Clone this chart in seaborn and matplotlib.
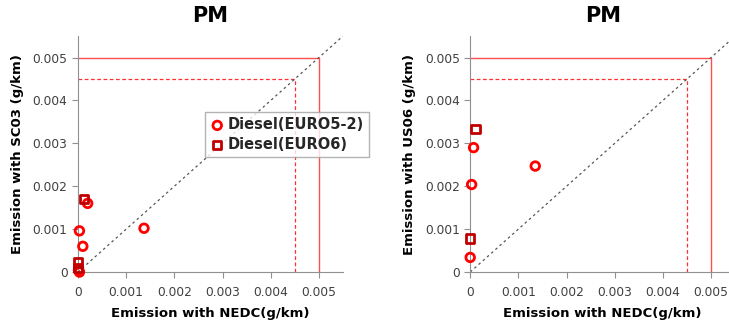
import numpy as np
import matplotlib
matplotlib.use('Agg')
import matplotlib.pyplot as plt
import seaborn as sns

sns.set_style('white')
plt.rcParams['font.family'] = ['DejaVu Sans']

# SC03 vs NEDC
sc03_euro5_nedc = [0.00003, 0.0001, 0.0002, 0.00137, 0.00003, 0.00001]
sc03_euro5_val = [0.00096, 0.0006, 0.0016, 0.00102, 0.00000, 0.00005]
sc03_euro6_nedc = [0.00012, 0.0, 0.0]
sc03_euro6_val = [0.0017, 0.00022, 0.0001]

# US06 vs NEDC
us06_euro5_nedc = [0.0, 0.00003, 0.00007, 0.00135]
us06_euro5_val = [0.00034, 0.00204, 0.0029, 0.00247]
us06_euro6_nedc = [0.0, 0.00011]
us06_euro6_val = [0.00078, 0.00334]

ticks = [0, 0.001, 0.002, 0.003, 0.004, 0.005]
tick_labels = ['0', '0.001', '0.002', '0.003', '0.004', '0.005']
limit = 0.005
limit_90 = 0.0045

fig = plt.figure(figsize=(7.29, 3.25), dpi=100)
ax1 = fig.add_axes([0.107, 0.163, 0.3635, 0.726])
ax2 = fig.add_axes([0.645, 0.163, 0.3635, 0.726])

panels = [
    (ax1, sc03_euro5_nedc, sc03_euro5_val, sc03_euro6_nedc, sc03_euro6_val, 'Emission with SC03 (g/km)'),
    (ax2, us06_euro5_nedc, us06_euro5_val, us06_euro6_nedc, us06_euro6_val, 'Emission with US06 (g/km)'),
]

for ax, x5, y5, x6, y6, ylab in panels:
    ax.set_xlim(0, 0.0055)
    ax.set_ylim(0, 0.0055)
    # limit lines
    ax.plot([0, limit], [limit, limit], color='#FF5050', lw=1)
    ax.plot([limit, limit], [0, limit], color='#FF5050', lw=1)
    ax.plot([0, limit_90], [limit_90, limit_90], color='#FF3030', lw=0.9, ls=(0, (3, 2)))
    ax.plot([limit_90, limit_90], [0, limit_90], color='#FF3030', lw=0.9, ls=(0, (3, 2)))
    ax.plot([0, 0.0062], [0, 0.0062], color='#555555', lw=0.9, ls=(0, (2, 2.5)))
    sns.scatterplot(x=x5, y=y5, ax=ax, marker='o', s=38, facecolor='none',
                    edgecolor='#FF0000', linewidth=2, clip_on=False, zorder=5,
                    label='Diesel(EURO5-2)')
    sns.scatterplot(x=x6, y=y6, ax=ax, marker='s', s=36, facecolor='none',
                    edgecolor='#C00000', linewidth=2, clip_on=False, zorder=5,
                    label='Diesel(EURO6)')
    ax.set_xticks(ticks)
    ax.set_xticklabels(tick_labels)
    ax.set_yticks(ticks)
    ax.set_yticklabels(tick_labels)
    ax.tick_params(axis='both', labelsize=8.8, labelcolor='#404040', length=4,
                   color='#909090', direction='out', bottom=True, left=True)
    ax.tick_params(axis='x', pad=6)
    for side in ['top', 'right']:
        ax.spines[side].set_visible(False)
    for side in ['left', 'bottom']:
        ax.spines[side].set_color('#909090')
    ax.set_xlabel('Emission with NEDC(g/km)', fontsize=9.5, fontweight='bold',
                  color='black', labelpad=6)
    ax.set_ylabel(ylab, fontsize=9.5, fontweight='bold', color='black', labelpad=6)
    ax.set_title('PM', fontsize=15, fontweight='bold', color='black', pad=10)
    ax.get_legend().remove()

handles, labels = ax1.get_legend_handles_labels()
leg = fig.legend(handles, labels, loc='upper left', bbox_to_anchor=(0.281, 0.655),
                 borderaxespad=0, frameon=True, fancybox=False, edgecolor='#a0a0a0',
                 prop={'weight': 'bold', 'size': 10.5}, handletextpad=0.2,
                 handlelength=1.0, borderpad=0.35, labelspacing=0.3)

fig.savefig('out.png', dpi=100)
